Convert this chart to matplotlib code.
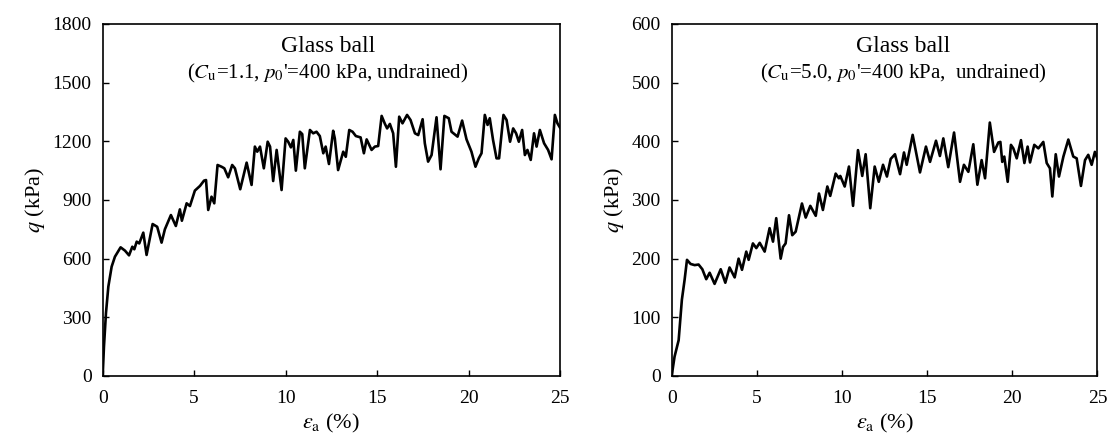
import matplotlib
matplotlib.use('Agg')
import matplotlib.pyplot as plt

plt.rcParams['font.family'] = ['Liberation Serif', 'DejaVu Serif']
plt.rcParams['mathtext.fontset'] = 'stix'

# Cu = 1.1 test (strain %, q kPa)
strain_a = [0, 0.07, 0.18, 0.31, 0.49, 0.67, 0.98, 1.22, 1.44, 1.62, 1.73, 1.86, 2.0, 2.22, 2.40,
            2.73, 2.98, 3.22, 3.40, 3.73, 4.0, 4.22, 4.33, 4.59, 4.77, 5.04, 5.32, 5.54, 5.65, 5.77,
            5.95, 6.1, 6.28, 6.50, 6.65, 6.86, 7.08, 7.23, 7.52, 7.87, 8.14, 8.32, 8.45, 8.6, 8.81,
            9.02, 9.15, 9.32, 9.51, 9.78, 10.0, 10.14, 10.29, 10.42, 10.56, 10.78, 10.91, 11.05, 11.33,
            11.51, 11.69, 11.87, 12.06, 12.19, 12.37, 12.6, 12.69, 12.87, 13.15, 13.29, 13.48, 13.66,
            13.84, 14.10, 14.28, 14.43, 14.70, 14.88, 15.06, 15.25, 15.43, 15.55, 15.70, 15.88, 16.03,
            16.21, 16.39, 16.64, 16.83, 17.07, 17.25, 17.49, 17.61, 17.79, 17.98, 18.25, 18.47, 18.68,
            18.92, 19.07, 19.40, 19.65, 19.89, 20.16, 20.38, 20.56, 20.71, 20.89, 21.04, 21.16, 21.34,
            21.53, 21.67, 21.91, 22.08, 22.27, 22.44, 22.6, 22.75, 22.93, 23.08, 23.22, 23.40, 23.58,
            23.72, 23.9, 24.13, 24.35, 24.54, 24.72, 24.86, 25.0]
q_a = [0, 150, 322, 457, 559, 610, 658, 641, 617, 661, 648, 687, 678, 733, 619,
       777, 763, 682, 750, 823, 767, 852, 794, 883, 869, 948, 972, 999, 1002, 849,
       917, 883, 1079, 1070, 1062, 1016, 1079, 1062, 955, 1091, 977, 1173, 1147, 1173, 1062,
       1198, 1173, 997, 1156, 951, 1215, 1198, 1169, 1207, 1050, 1249, 1237, 1062, 1258,
       1241, 1249, 1227, 1139, 1173, 1084, 1254, 1215, 1053, 1147, 1121, 1258, 1249,
       1227, 1220, 1139, 1210, 1156, 1173, 1176, 1330, 1289, 1266, 1289, 1241, 1070,
       1326, 1292, 1335, 1309, 1241, 1232, 1313, 1190, 1096, 1130, 1323, 1057, 1330,
       1318, 1249, 1224, 1306, 1210, 1147, 1070, 1113, 1139, 1335, 1284, 1318, 1207,
       1113, 1113, 1335, 1309, 1198, 1266, 1241, 1198, 1258, 1130, 1156, 1105, 1241,
       1173, 1258, 1190, 1156, 1108, 1335, 1292, 1270]

# Cu = 5.0 test
strain_b = [0, 0.17, 0.41, 0.60, 0.76, 0.90, 1.11, 1.35, 1.58, 1.80, 2.03, 2.23, 2.52, 2.88, 3.15,
            3.40, 3.70, 3.93, 4.13, 4.38, 4.52, 4.77, 4.97, 5.17, 5.46, 5.75, 5.95, 6.14, 6.40, 6.54,
            6.69, 6.89, 7.08, 7.28, 7.65, 7.87, 8.14, 8.46, 8.65, 8.88, 9.14, 9.31, 9.63, 9.82, 9.9,
            10.16, 10.41, 10.65, 10.94, 11.19, 11.39, 11.66, 11.92, 12.16, 12.41, 12.64, 12.86, 13.11,
            13.41, 13.64, 13.80, 14.15, 14.58, 14.93, 15.17, 15.52, 15.75, 15.95, 16.24, 16.58, 16.93,
            17.16, 17.42, 17.71, 17.95, 18.20, 18.40, 18.68, 18.93, 19.18, 19.30, 19.41, 19.53, 19.73,
            19.92, 20.06, 20.26, 20.51, 20.71, 20.90, 21.04, 21.29, 21.53, 21.82, 22.02, 22.21, 22.35,
            22.55, 22.74, 23.0, 23.29, 23.58, 23.78, 24.03, 24.27, 24.46, 24.66, 24.85, 25.0]
q_b = [0, 33, 61, 130, 164, 198, 191, 189, 190, 182, 165, 176, 157, 182, 159,
       185, 168, 200, 181, 212, 198, 226, 218, 227, 212, 252, 229, 269, 200, 220,
       226, 274, 240, 246, 294, 270, 290, 273, 311, 283, 323, 307, 345, 337, 341,
       323, 357, 290, 385, 341, 378, 286, 357, 331, 360, 340, 370, 378,
       344, 381, 360, 411, 347, 391, 365, 401, 375, 405, 356, 415, 331,
       360, 348, 395, 326, 368, 337, 432, 382, 398, 399, 365, 374, 331,
       394, 388, 371, 402, 363, 391, 364, 394, 388, 399, 363, 354, 306,
       378, 340, 374, 403, 374, 371, 324, 368, 377, 360, 382, 370]

panels = [
    (strain_a, q_a, 1800, 300, r"($C_{\rm u}$=1.1, $p_0$'=400 kPa, undrained)", 0.493),
    (strain_b, q_b, 600, 100, r"($C_{\rm u}$=5.0, $p_0$'=400 kPa,  undrained)", 0.543),
]
positions = [[0.0925, 0.1474, 0.412, 0.7982], [0.6051, 0.1474, 0.3836, 0.7982]]

fig = plt.figure(figsize=(11.1, 4.41), dpi=100)
for (x, y, ymax, ystep, sub, tx), pos in zip(panels, positions):
    ax = fig.add_axes(pos)
    ax.plot(x, y, color='black', lw=1.9, solid_joinstyle='round')
    ax.set_xlim(0, 25)
    ax.set_ylim(0, ymax)
    ax.set_xticks(range(0, 26, 5))
    ax.set_yticks(range(0, ymax + 1, ystep))
    ax.tick_params(direction='in', length=4.5, width=1.0, labelsize=14, pad=8)
    ax.tick_params(axis='x', pad=10)
    for s in ax.spines.values():
        s.set_linewidth(1.2)
    ax.set_xlabel(r'$\varepsilon_{\rm a}$ (%)', fontsize=16, labelpad=4)
    ax.set_ylabel(r'$q$ (kPa)', fontsize=16, labelpad=4)
    ax.text(tx, 0.935, 'Glass ball', transform=ax.transAxes, ha='center', va='center', fontsize=17)
    ax.text(tx, 0.86, sub, transform=ax.transAxes, ha='center', va='center', fontsize=15)

fig.savefig('out.png', dpi=100)
